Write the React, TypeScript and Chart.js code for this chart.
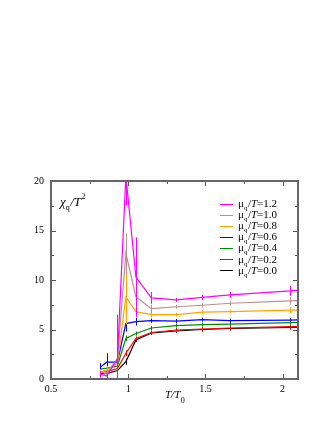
import React, { useEffect, useRef } from "react";
import { Chart, registerables } from "chart.js";
Chart.register(...registerables);

const T_VALUES = [0.82, 0.86, 0.93, 0.985, 1.05, 1.15, 1.31, 1.48, 1.66, 2.05, 2.25];
const X_TICKS = [0.5, 1, 1.5, 2];
const Y_TICKS = [0, 5, 10, 15, 20];

const MU_LABELS = ["1.2", "1.0", "0.8", "0.6", "0.4", "0.2", "0.0"];
const COLORS = ["#ff00ff", "#bc8f8f", "#ffa500", "#0000ff", "#008b00", "#ff0000", "#000000"];

const CHI_12 = [0.5, 0.3, 2.0, 20.5, 10.3, 8.2, 8.0, 8.25, 8.5, 8.9, 9.2];
const CHI_10 = [0.4, 0.6, 2.0, 12.7, 8.3, 7.1, 7.3, 7.45, 7.65, 7.9, 8.0];
const CHI_08 = [0.7, 0.9, 1.6, 8.3, 6.8, 6.5, 6.5, 6.75, 6.8, 6.95, 7.0];
const CHI_06 = [1.2, 1.7, 1.7, 5.6, 5.8, 5.9, 5.85, 6.0, 5.9, 5.95, 6.0];
const CHI_04 = [1.0, 1.1, 1.3, 4.1, 4.6, 5.15, 5.4, 5.5, 5.55, 5.7, 5.75];
const CHI_02 = [0.7, 0.75, 1.05, 2.6, 4.1, 4.7, 4.95, 5.05, 5.15, 5.3, 5.35];
const CHI_00 = [0.55, 0.55, 0.85, 1.75, 3.95, 4.65, 4.85, 5.0, 5.1, 5.2, 5.25];

const ERR_12 = [0.3, 0.3, 4.5, 3.0, 4.0, 0.6, 0.2, 0.25, 0.3, 0.5, 0.5];
const ERR_10 = [0.3, 0.4, 2.5, 2.0, 1.5, 0.4, 0.2, 0.2, 0.25, 0.4, 0.4];
const ERR_08 = [0.3, 0.4, 1.5, 2.8, 0.5, 0.3, 0.15, 0.2, 0.2, 0.3, 0.3];
const ERR_06 = [0.4, 0.9, 0.3, 0.8, 0.4, 0.2, 0.1, 0.15, 0.15, 0.15, 0.15];
const ERR_04 = [0.2, 0.2, 0.2, 0.3, 0.2, 0.1, 0.1, 0.1, 0.1, 0.1, 0.1];
const ERR_02 = [0.15, 0.15, 0.2, 0.3, 0.2, 0.1, 0.1, 0.1, 0.1, 0.1, 0.1];
const ERR_00 = [0.15, 0.15, 0.2, 0.3, 0.2, 0.1, 0.1, 0.1, 0.1, 0.1, 0.1];

const SERIES = [CHI_12, CHI_10, CHI_08, CHI_06, CHI_04, CHI_02, CHI_00];
const ERRORS = [ERR_12, ERR_10, ERR_08, ERR_06, ERR_04, ERR_02, ERR_00];

const X_MIN = 0.5, X_MAX = 2.1, Y_MIN = 0, Y_MAX = 20;
const SERIF = "'Liberation Serif', 'DejaVu Serif', serif";

const decorPlugin = {
  id: "decor",
  afterDatasetsDraw(chart: any) {
    const ctx = chart.ctx;
    const a = chart.chartArea;
    const xs = chart.scales.x;
    const ys = chart.scales.y;
    // error bars (drawn last series first, so the first series is on top)
    ctx.save();
    ctx.beginPath();
    ctx.rect(a.left, a.top, a.right - a.left, a.bottom - a.top);
    ctx.clip();
    for (let si = SERIES.length - 1; si >= 0; si--) {
      const vals = SERIES[si];
      ctx.strokeStyle = COLORS[si];
      ctx.lineWidth = 1;
      vals.forEach((v, i) => {
        const px = xs.getPixelForValue(T_VALUES[i]);
        const py = ys.getPixelForValue(v);
        let top = ys.getPixelForValue(v + ERRORS[si][i]);
        let bot = ys.getPixelForValue(v - ERRORS[si][i]);
        if (py - top < 2) top = py - 2;
        if (bot - py < 2) bot = py + 2;
        ctx.beginPath();
        ctx.moveTo(Math.round(px) + 0.5, top);
        ctx.lineTo(Math.round(px) + 0.5, bot);
        ctx.stroke();
      });
    }
    ctx.restore();

    // frame and ticks
    ctx.save();
    ctx.strokeStyle = "#555";
    ctx.lineWidth = 1;
    const tick = (x1: number, y1: number, x2: number, y2: number) => {
      ctx.beginPath();
      ctx.moveTo(x1, y1);
      ctx.lineTo(x2, y2);
      ctx.stroke();
    };
    for (let v = X_MIN; v <= X_MAX + 1e-9; v += 0.25) {
      const px = Math.round(xs.getPixelForValue(v)) + 0.5;
      const major = Math.abs(v * 2 - Math.round(v * 2)) < 1e-6;
      const L = major ? 5 : 3;
      tick(px, a.bottom, px, a.bottom - L);
      tick(px, a.top, px, a.top + L);
    }
    for (let v = Y_MIN; v <= Y_MAX + 1e-9; v += 2.5) {
      const py = Math.round(ys.getPixelForValue(v)) + 0.5;
      const major = Math.abs(v / 5 - Math.round(v / 5)) < 1e-6;
      const L = major ? 5 : 3;
      tick(a.left, py, a.left + L, py);
      tick(a.right, py, a.right - L, py);
    }
    ctx.lineWidth = 2;
    ctx.strokeStyle = "#666";
    ctx.strokeRect(a.left, a.top, a.right - a.left, a.bottom - a.top);
    ctx.restore();

    // legend
    ctx.save();
    ctx.textBaseline = "alphabetic";
    MU_LABELS.forEach((lab, i) => {
      const cy = 203.5 + i * 11.1;
      ctx.strokeStyle = COLORS[i];
      ctx.lineWidth = 1;
      ctx.beginPath();
      ctx.moveTo(220, Math.round(cy) + 0.5);
      ctx.lineTo(233, Math.round(cy) + 0.5);
      ctx.stroke();
      ctx.fillStyle = "#000";
      let x = 238;
      const base = cy + 3.5;
      ctx.font = `11px ${SERIF}`;
      ctx.fillText("\u03bc", x, base);
      x += ctx.measureText("\u03bc").width;
      ctx.font = `7px ${SERIF}`;
      ctx.fillText("q", x, base + 3);
      x += ctx.measureText("q").width + 0.5;
      ctx.font = `11px ${SERIF}`;
      ctx.fillText("/", x, base);
      x += ctx.measureText("/").width;
      ctx.font = `italic 11px ${SERIF}`;
      ctx.fillText("T", x, base);
      x += ctx.measureText("T").width;
      ctx.font = `11px ${SERIF}`;
      ctx.fillText("=" + lab, x, base);
    });

    // y title inside plot
    {
      let x = 60;
      const base = 206;
      ctx.font = `italic 13px ${SERIF}`;
      ctx.fillText("\u03c7", x, base);
      x += ctx.measureText("\u03c7").width;
      ctx.font = `8px ${SERIF}`;
      ctx.fillText("q", x, base + 4);
      x += ctx.measureText("q").width + 0.5;
      ctx.font = `italic 13px ${SERIF}`;
      ctx.fillText("/T", x, base);
      x += ctx.measureText("/T").width + 0.5;
      ctx.font = `8px ${SERIF}`;
      ctx.fillText("2", x, base - 7);
    }
    // x title
    {
      let x = 165;
      const base = 398;
      ctx.font = `italic 11px ${SERIF}`;
      ctx.fillText("T/T", x, base);
      x += ctx.measureText("T/T").width + 0.5;
      ctx.font = `8px ${SERIF}`;
      ctx.fillText("0", x, base + 5);
    }
    ctx.restore();
  },
};

export default function App() {
  const ref = useRef<HTMLCanvasElement>(null);
  useEffect(() => {
    document.body.style.margin = "0";
    const canvas = ref.current!;
    const chart = new Chart(canvas, {
      type: "line",
      data: {
        datasets: SERIES.map((vals, si) => ({
          label: "\u03bcq/T=" + MU_LABELS[si],
          data: vals.map((v, i) => ({ x: T_VALUES[i], y: v })),
          borderColor: COLORS[si],
          backgroundColor: COLORS[si],
          borderWidth: 1.2,
          pointRadius: 0,
          tension: 0,
          fill: false,
        })),
      },
      options: {
        responsive: false,
        animation: false,
        events: [],
        layout: { padding: { top: 181, right: 34, left: 0, bottom: 0 } },
        plugins: { legend: { display: false }, tooltip: { enabled: false } },
        scales: {
          x: {
            type: "linear",
            min: X_MIN,
            max: X_MAX,
            grid: { display: false, drawTicks: false },
            border: { display: false },
            afterBuildTicks: (s: any) => { s.ticks = X_TICKS.map((v) => ({ value: v })); },
            ticks: {
              padding: 4,
              color: "#000",
              font: { family: SERIF, size: 10 },
              callback: (v: any) => String(v),
            },
            afterFit: (s: any) => { s.height = 51; },
          },
          y: {
            min: Y_MIN,
            max: Y_MAX,
            grid: { display: false, drawTicks: false },
            border: { display: false },
            afterBuildTicks: (s: any) => { s.ticks = Y_TICKS.map((v) => ({ value: v })); },
            ticks: {
              padding: 7,
              color: "#000",
              font: { family: SERIF, size: 10 },
            },
            afterFit: (s: any) => { s.width = 51; },
          },
        },
      },
      plugins: [decorPlugin],
    } as any);
    return () => chart.destroy();
  }, []);
  return <canvas ref={ref} width={332} height={430} style={{ display: "block" }} />;
}
